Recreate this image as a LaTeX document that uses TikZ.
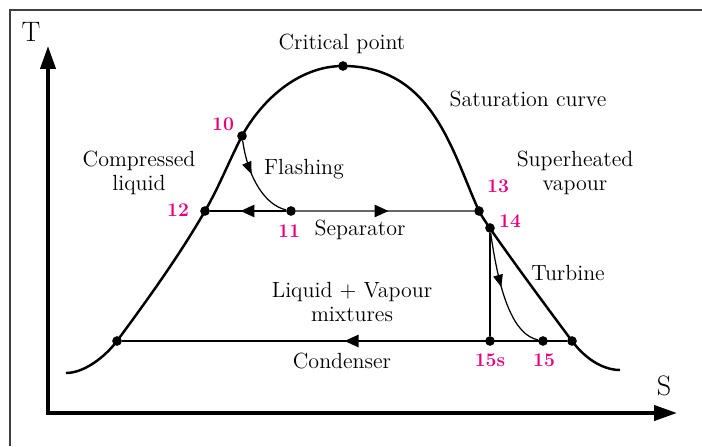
\documentclass[tikz,border=0pt]{standalone}
\usetikzlibrary{arrows.meta,decorations.markings}
\definecolor{ptpink}{RGB}{232,0,128}
\tikzset{
  dot/.style={circle,fill=black,inner sep=0pt,minimum size=5.5pt},
  ptlabel/.style={text=ptpink,font=\fontsize{11}{13}\selectfont\bfseries},
  txt/.style={font=\fontsize{12.5}{14}\selectfont,align=center},
  midarrow/.style={postaction={decorate},decoration={markings,
    mark=at position #1 with {\arrow[black]{Triangle[length=8pt,width=7pt]}}}},
  smallarrow/.style={postaction={decorate},decoration={markings,
    mark=at position #1 with {\arrow{Triangle[length=7pt,width=5.5pt]}}}},
}
\begin{document}
\begin{tikzpicture}[x=0.02cm,y=-0.02cm]
\useasboundingbox (0,0) rectangle (702,446);
\draw[line width=0.8pt,black!75] (10,446) -- (10,10) -- (702,10);
\coordinate (o) at (48,413);
\coordinate (ytip) at (48,46);
\coordinate (xtip) at (677,413);
\draw[line width=2.2pt,{Triangle[length=13pt,width=8.5pt]}-{Triangle[length=13pt,width=8.5pt]}] (ytip) -- (o) -- (xtip);
\node[font=\fontsize{16}{18}\selectfont] (tlab) at (31,32) {T};
\node[font=\fontsize{16}{18}\selectfont] (slab) at (664,386) {S};
\node[dot] (cp) at (343,66) {};
\node[dot] (n10) at (242,136) {};
\node[dot] (n11) at (291,211) {};
\node[dot] (n12) at (205,211) {};
\node[dot] (n13) at (479,211) {};
\node[dot] (n14) at (490,228) {};
\node[dot] (cl) at (117,341) {};
\node[dot] (n15s) at (490,341) {};
\node[dot] (n15) at (543,341) {};
\node[dot] (cr) at (572,341) {};
\draw[line width=1.4pt] (66,373) .. controls (84,373) and (105,357) .. (cl.center)
  .. controls (148,299) and (179,256) .. (n12.center)
  .. controls (219,187) and (229,161) .. (n10.center)
  .. controls (261,101) and (298,66) .. (cp.center)
  .. controls (433,66) and (452,152) .. (n13.center)
  .. controls (485,224) and (554,317) .. (cr.center)
  .. controls (587,361) and (605,370) .. (620,370);
\draw[line width=1.1pt,midarrow=0.6] (n11) -- (n12);
\draw[line width=1.1pt,black!60,midarrow=0.52] (n11) -- (n13);
\draw[line width=1.1pt,midarrow=0.5] (cr) -- (cl);
\draw[line width=0.7pt,smallarrow=0.4] (n10) .. controls (248,178) and (265,205) .. (n11);
\draw[line width=0.7pt] (n14) -- (n15s);
\draw[line width=0.7pt,smallarrow=0.45] (n14) .. controls (500,300) and (515,335) .. (n15);
\node[txt] (cplab) at (342,44) {Critical point};
\node[txt] (satlab) at (528,99) {Saturation curve};
\node[txt] (cmplab) at (139,173) {Compressed\\liquid};
\node[txt] (flslab) at (304,169) {Flashing};
\node[txt] (suplab) at (575,173) {Superheated\\vapour};
\node[txt] (seplab) at (360,230) {Separator};
\node[txt] (trblab) at (568,273) {Turbine};
\node[txt] (mixlab) at (352,302) {Liquid + Vapour\\mixtures};
\node[txt] (cndlab) at (342,361) {Condenser};
\node[ptlabel] (l10) at (223,124) {10};
\node[ptlabel] (l11) at (289,231) {11};
\node[ptlabel] (l12) at (178,210) {12};
\node[ptlabel] (l13) at (498,186) {13};
\node[ptlabel] (l14) at (510,221) {14};
\node[ptlabel] (l15s) at (490,360) {15s};
\node[ptlabel] (l15) at (544,360) {15};
\end{tikzpicture}
\end{document}
